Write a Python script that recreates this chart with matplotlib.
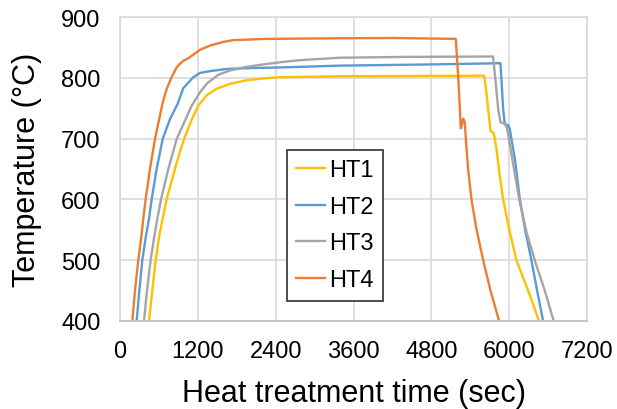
import matplotlib
matplotlib.use('Agg')
import matplotlib.pyplot as plt

plt.rcParams['font.family'] = ['Liberation Sans', 'DejaVu Sans']

# Datos (tiempo en s, temperatura en C)
ht1_t = [447, 498, 550, 605, 657, 719, 847, 920, 991, 1100, 1207, 1335, 1489, 1695, 1951,
         2208, 2465, 3390, 4500, 5614,
         5645, 5676, 5712, 5763, 5804, 5855, 5907, 6000, 6112, 6292, 6461]
ht1_T = [400, 450, 500, 540, 568, 600, 650, 677, 700, 730, 754, 771, 782, 790, 796,
         799, 801, 802.5, 803, 803.5,
         780, 749, 713, 709, 683, 639, 600, 551, 500, 450, 400]

ht2_t = [257, 298, 344, 400, 447, 488, 565, 657, 770, 888, 976, 1037, 1130, 1232, 1386,
         1643, 2003, 2465, 3390, 4800, 5866,
         5885, 5907, 5932, 5984, 6009, 6090, 6165, 6250, 6343, 6431, 6523]
ht2_T = [400, 450, 500, 540, 568, 600, 650, 699, 732, 757, 783, 790, 801, 808, 811,
         814.5, 816, 817, 820, 822, 824,
         790, 749, 724, 722, 716, 665, 600, 548, 500, 450, 400]

ht3_t = [370, 416, 472, 530, 575, 632, 745, 873, 1012, 1104, 1232, 1345, 1515, 1695, 1951,
         2208, 2465, 2774, 3390, 4500, 5752,
         5790, 5830, 5866, 5932, 5968, 6040, 6100, 6155, 6270, 6400, 6549, 6687]
ht3_T = [400, 450, 500, 540, 568, 600, 650, 699, 732, 754, 776, 791, 805, 812, 818,
         822, 825.5, 829, 833, 834.5, 835,
         795, 749, 727, 724, 717, 672, 634, 600, 545, 498, 450, 400]

ht4_t = [190, 231, 282, 330, 359, 395, 462, 539, 600, 660, 720, 796, 873, 914, 976, 1053,
         1104, 1233, 1387, 1592, 1746, 2260, 3390, 4200, 5177,
         5215, 5240, 5254, 5270, 5290, 5316, 5332, 5367, 5419, 5496, 5599, 5712, 5845]
ht4_T = [400, 450, 500, 540, 568, 600, 650, 699, 730, 760, 782, 801, 817, 822, 828, 832,
         836, 846, 853, 859, 862, 864, 865, 865.5, 864,
         800, 750, 717, 722, 733, 727, 699, 650, 600, 551, 500, 450, 400]

series = [('HT1', ht1_t, ht1_T, '#FFC000'),
          ('HT2', ht2_t, ht2_T, '#5B9BD5'),
          ('HT3', ht3_t, ht3_T, '#A5A5A5'),
          ('HT4', ht4_t, ht4_T, '#ED7D31')]

fig = plt.figure(figsize=(6.17, 4.10), dpi=100)
ax = fig.add_axes([120/617, 1 - 322/410, 467/617, 304/410])

for name, t, T, c in series:
    ax.plot(t, T, color=c, linewidth=1.7, label=name, solid_joinstyle='round')

ax.set_xlim(0, 7200)
ax.set_ylim(400, 900)
ax.set_xticks(range(0, 7201, 1200))
ax.set_yticks(range(400, 901, 100))
ax.grid(True, color='#D9D9D9', linewidth=1.2)
ax.set_axisbelow(True)
for s in ax.spines.values():
    s.set_color('#D9D9D9')
    s.set_linewidth(1.2)
ax.spines['bottom'].set_color('#BFBFBF')
ax.tick_params(length=0, labelsize=17, pad=14)

ax.set_xlabel('Heat treatment time (sec)', fontsize=22, labelpad=11)
ax.set_ylabel('Temperature (°C)', fontsize=22, labelpad=14)

leg = ax.legend(loc='upper left', bbox_to_anchor=(0.3576, 0.5635), borderaxespad=0,
                fontsize=17, handlelength=1.2, handletextpad=0.2, labelspacing=0.62,
                fancybox=False, framealpha=1, borderpad=0.4)
leg.get_frame().set_edgecolor('#404040')
leg.get_frame().set_linewidth(1.3)

plt.savefig('out.png', dpi=100)
